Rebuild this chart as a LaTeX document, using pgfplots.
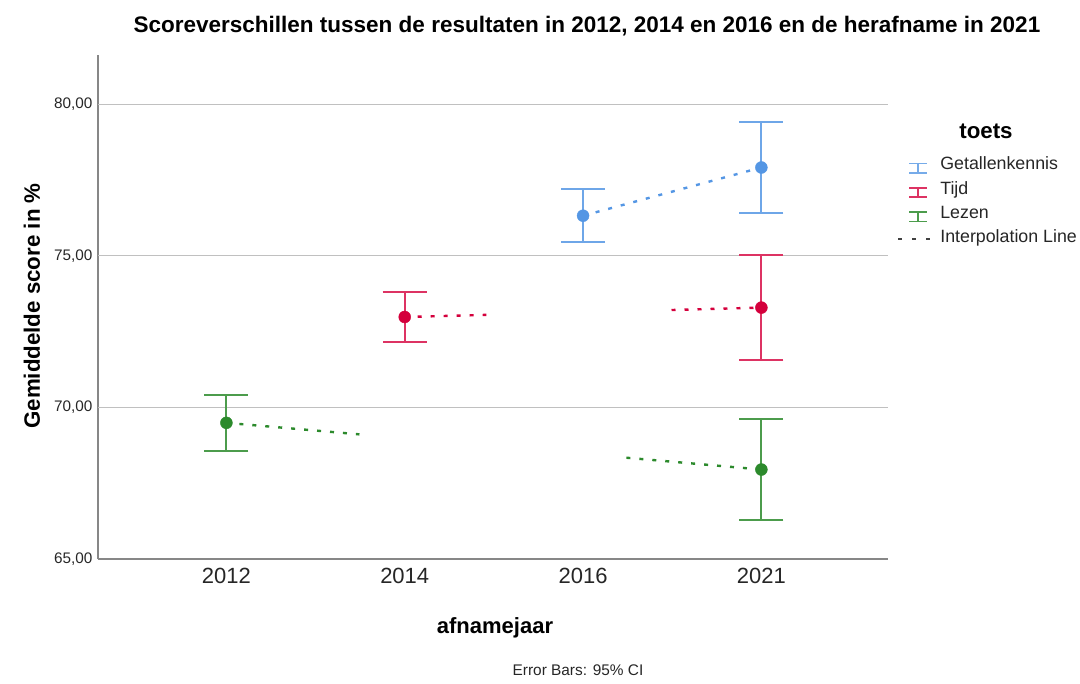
\documentclass[border=0pt]{standalone}
\usepackage{pgfplots}
\pgfplotsset{compat=1.18}
\usepackage{fontspec}
\setmainfont{Liberation Sans}
\definecolor{cG}{RGB}{84,150,228}
\definecolor{cT}{RGB}{212,0,60}
\definecolor{cL}{RGB}{44,138,44}
\definecolor{gridc}{RGB}{192,192,192}
\definecolor{axc}{RGB}{135,135,135}
\begin{document}
\begin{tikzpicture}[x=1pt,y=1pt]
\useasboundingbox (0,0) rectangle (1080,684);
\begin{axis}[
  at={(98pt,125pt)}, anchor=south west,
  scale only axis, width=790pt, height=504pt,
  xmin=-0.72, xmax=3.71, ymin=65, ymax=81.62,
  axis x line*=bottom, axis y line*=left,
  axis line style={axc, line width=1.2pt, -},
  xtick={0,1,2,3}, xticklabels={2012,2014,2016,2021},
  ytick={65,70,75,80}, yticklabels={{65,00},{70,00},{75,00},{80,00}},
  extra y ticks={70,75,80}, extra y tick labels={},
  extra y tick style={grid=major, major grid style={gridc, line width=1.2pt}, major tick length=0pt},
  major tick length=4pt, tick align=inside,
  x tick style={draw=none},
  y tick style={axc, line width=1pt},
  xticklabel style={font=\fontsize{22}{26}\selectfont, text=black!85, yshift=-6pt},
  yticklabel style={font=\fontsize{15.3}{18}\selectfont, text=black!85, xshift=-2pt},
  /pgf/number format/assume math mode=true,
  clip=false,
  legend style={at={(axis description cs:1.0114,0.798)}, anchor=north west, draw=none, fill=none,
    inner sep=0pt, row sep=7.3pt, font=\fontsize{17.8}{20}\selectfont,
    nodes={inner sep=0pt, text height=13pt, text depth=4pt, text=black!85}},
  legend cell align=left,
]
% interpolation lines
\addplot[forget plot, cG, line width=2.4pt, dash pattern=on 4pt off 9pt] coordinates {(2,76.32) (3,77.91)};
\addplot[forget plot, cT, line width=2.4pt, dash pattern=on 4pt off 9pt] coordinates {(1,72.98) (1.458,73.05)};
\addplot[forget plot, cT, line width=2.4pt, dash pattern=on 4pt off 9pt] coordinates {(2.496,73.21) (3,73.29)};
\addplot[forget plot, cL, line width=2.4pt, dash pattern=on 4pt off 9pt] coordinates {(0,69.49) (0.746,69.11)};
\addplot[forget plot, cL, line width=2.4pt, dash pattern=on 4pt off 9pt] coordinates {(2.243,68.34) (3,67.95)};
% means with 95% CI
\addplot[forget plot, only marks, mark=*, mark size=6pt, cG, mark options={fill=cG, draw=cG},
  error bars/.cd, y dir=both, y explicit, error mark=|,
  error mark options={line width=2pt, mark size=22pt, cG!85}, error bar style={line width=2pt, cG!85}]
  coordinates {(2,76.32) +- (0,0.87) (3,77.91) +- (0,1.51)};
\addplot[forget plot, only marks, mark=*, mark size=6pt, cT, mark options={fill=cT, draw=cT},
  error bars/.cd, y dir=both, y explicit, error mark=|,
  error mark options={line width=2pt, mark size=22pt, cT!80}, error bar style={line width=2pt, cT!80}]
  coordinates {(1,72.98) +- (0,0.82) (3,73.29) +- (0,1.73)};
\addplot[forget plot, only marks, mark=*, mark size=6pt, cL, mark options={fill=cL, draw=cL},
  error bars/.cd, y dir=both, y explicit, error mark=|,
  error mark options={line width=2pt, mark size=22pt, cL!85}, error bar style={line width=2pt, cL!85}]
  coordinates {(0,69.49) +- (0,0.92) (3,67.95) +- (0,1.68)};
% legend
\addlegendimage{legend image code/.code={
  \draw[cG!80, line width=1.7pt] (11pt,-7.5pt) -- (29pt,-7.5pt) (20pt,-7.5pt) -- (20pt,2pt) (11pt,2pt) -- (29pt,2pt);
  \path (0pt,0pt) (42pt,0pt);}}
\addlegendentry{Getallenkennis}
\addlegendimage{legend image code/.code={
  \draw[cT!80, line width=1.7pt] (11pt,-7.5pt) -- (29pt,-7.5pt) (20pt,-7.5pt) -- (20pt,2pt) (11pt,2pt) -- (29pt,2pt);
  \path (0pt,0pt) (42pt,0pt);}}
\addlegendentry{Tijd}
\addlegendimage{legend image code/.code={
  \draw[cL!85, line width=1.7pt] (11pt,-7.5pt) -- (29pt,-7.5pt) (20pt,-7.5pt) -- (20pt,2pt) (11pt,2pt) -- (29pt,2pt);
  \path (0pt,0pt) (42pt,0pt);}}
\addlegendentry{Lezen}
\addlegendimage{legend image code/.code={
  \draw[black!75, line width=1.8pt, dash pattern=on 4pt off 10pt] (0pt,-1pt) -- (34pt,-1pt);
  \path (0pt,0pt) (42pt,0pt);}}
\addlegendentry{Interpolation Line}
\end{axis}
\node[anchor=base, font=\fontsize{22.5}{26}\selectfont\bfseries] at (587,651) {Scoreverschillen tussen de resultaten in 2012, 2014 en 2016 en de herafname in 2021};
\node[rotate=90, font=\fontsize{22.3}{26}\selectfont\bfseries] at (32,378) {Gemiddelde score in \%};
\node[font=\fontsize{22}{26}\selectfont\bfseries] at (495,56) {afnamejaar};
\node[font=\fontsize{15.4}{18}\selectfont, text=black!85] at (578,14) {Error Bars: 95\% CI};
\node[anchor=base, font=\fontsize{22.3}{26}\selectfont\bfseries] at (986,545) {toets};
\end{tikzpicture}
\end{document}
